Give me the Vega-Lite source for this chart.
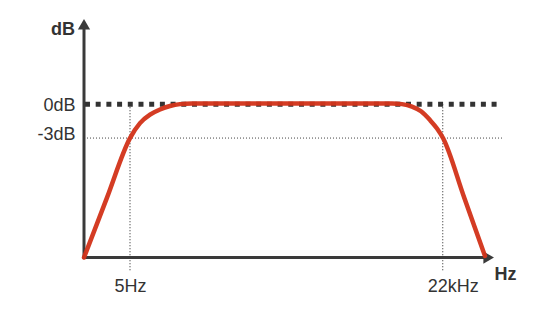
{
  "$schema": "https://vega.github.io/schema/vega-lite/v6.json",
  "width": 410,
  "height": 239,
  "autosize": {"type": "none"},
  "padding": {"left": 84, "top": 19, "right": 65, "bottom": 55},
  "background": "white",
  "config": {"view": {"stroke": null}, "font": "Liberation Sans"},
  "datasets": {
    "curve": [
      {"f": 0, "db": -13.64},
      {"f": 5.61, "db": -8.3},
      {"f": 11.22, "db": -3.0},
      {"f": 13.66, "db": -1.67},
      {"f": 16.1, "db": -0.92},
      {"f": 18.54, "db": -0.46},
      {"f": 20.98, "db": -0.15},
      {"f": 23.41, "db": 0.02},
      {"f": 26.34, "db": 0.08},
      {"f": 50, "db": 0.08},
      {"f": 75.12, "db": 0.08},
      {"f": 77.56, "db": 0.02},
      {"f": 80.0, "db": -0.2},
      {"f": 82.2, "db": -0.62},
      {"f": 84.39, "db": -1.4},
      {"f": 86.1, "db": -2.15},
      {"f": 87.56, "db": -3.0},
      {"f": 92.68, "db": -8.25},
      {"f": 97.8, "db": -13.5}
    ],
    "marks": [
      {"label": "5Hz", "f": 11.22},
      {"label": "22kHz", "f": 87.49}
    ]
  },
  "layer": [
    {
      "data": {"name": "marks"},
      "mark": {"type": "rule", "strokeDash": [1, 2], "strokeWidth": 1.2, "color": "#444"},
      "encoding": {
        "x": {
          "field": "f",
          "type": "quantitative",
          "scale": {"domain": [0, 100], "nice": false, "zero": false},
          "axis": {
            "title": null,
            "values": [11.22, 87.49],
            "labelExpr": "datum.value < 50 ? '5Hz' : '22kHz'",
            "domain": false,
            "ticks": false,
            "grid": false,
            "labelFontSize": 18,
            "labelColor": "#333",
            "labelFont": "Liberation Sans",
            "labelPadding": 19,
            "labelOffset": {"condition": {"test": "datum.value > 50", "value": 10}, "value": 0}
          }
        },
        "y": {
          "datum": 0,
          "type": "quantitative",
          "scale": {"domain": [-13.68, 7.6], "nice": false, "zero": false},
          "axis": {
            "title": null,
            "values": [0, -3],
            "labelExpr": "datum.value == 0 ? '0dB' : '-3dB'",
            "domain": false,
            "ticks": false,
            "grid": false,
            "labelFontSize": 18,
            "labelColor": "#333",
            "labelFont": "Liberation Sans",
            "labelPadding": 9,
            "labelOffset": {"condition": {"test": "datum.value < -1", "value": -4}, "value": 1}
          }
        },
        "y2": {"datum": -14.94}
      }
    },
    {
      "data": {"values": [{"db": -3, "f": 0, "f2": 101.95}]},
      "mark": {"type": "rule", "strokeDash": [1, 2], "strokeWidth": 1, "color": "#444"},
      "encoding": {
        "x": {"field": "f", "type": "quantitative"},
        "x2": {"field": "f2"},
        "y": {"field": "db", "type": "quantitative"}
      }
    },
    {
      "data": {"values": [{"db": 0, "f": 0.24, "f2": 101.95}]},
      "mark": {"type": "rule", "strokeDash": [5, 5.7], "strokeWidth": 5, "color": "#333", "strokeCap": "butt"},
      "encoding": {
        "x": {"field": "f", "type": "quantitative"},
        "x2": {"field": "f2"},
        "y": {"field": "db", "type": "quantitative"}
      }
    },
    {
      "data": {"values": [
        {"f": 0, "f2": 0, "db": -13.68, "db2": 7.0},
        {"f": -0.35, "f2": 97.6, "db": -13.64, "db2": -13.64}
      ]},
      "mark": {"type": "rule", "strokeWidth": 3, "color": "#3a3a3a"},
      "encoding": {
        "x": {"field": "f", "type": "quantitative"},
        "x2": {"field": "f2"},
        "y": {"field": "db", "type": "quantitative"},
        "y2": {"field": "db2"}
      }
    },
    {
      "data": {"values": [
        {"f": 0, "db": 7.13, "dir": "up"},
        {"f": 98.7, "db": -13.64, "dir": "right"}
      ]},
      "mark": {"type": "point", "filled": true, "size": 150, "color": "#3a3a3a", "opacity": 1},
      "encoding": {
        "x": {"field": "f", "type": "quantitative"},
        "y": {"field": "db", "type": "quantitative"},
        "shape": {
          "field": "dir",
          "type": "nominal",
          "scale": {"domain": ["up", "right"], "range": ["triangle-up", "triangle-right"]},
          "legend": null
        }
      }
    },
    {
      "data": {"name": "curve"},
      "mark": {"type": "line", "interpolate": "monotone", "color": "#d2341b", "strokeWidth": 4.5, "opacity": 0.96, "strokeCap": "round"},
      "encoding": {
        "x": {"field": "f", "type": "quantitative"},
        "y": {"field": "db", "type": "quantitative"}
      }
    },
    {
      "data": {"values": [
        {"label": "dB", "f": -5.12, "db": 6.62},
        {"label": "Hz", "f": 102.8, "db": -15.16}
      ]},
      "mark": {"type": "text", "fontWeight": "bold", "fontSize": 18, "color": "#333", "align": "center", "baseline": "middle", "font": "Liberation Sans"},
      "encoding": {
        "x": {"field": "f", "type": "quantitative"},
        "y": {"field": "db", "type": "quantitative"},
        "text": {"field": "label"}
      }
    }
  ]
}
